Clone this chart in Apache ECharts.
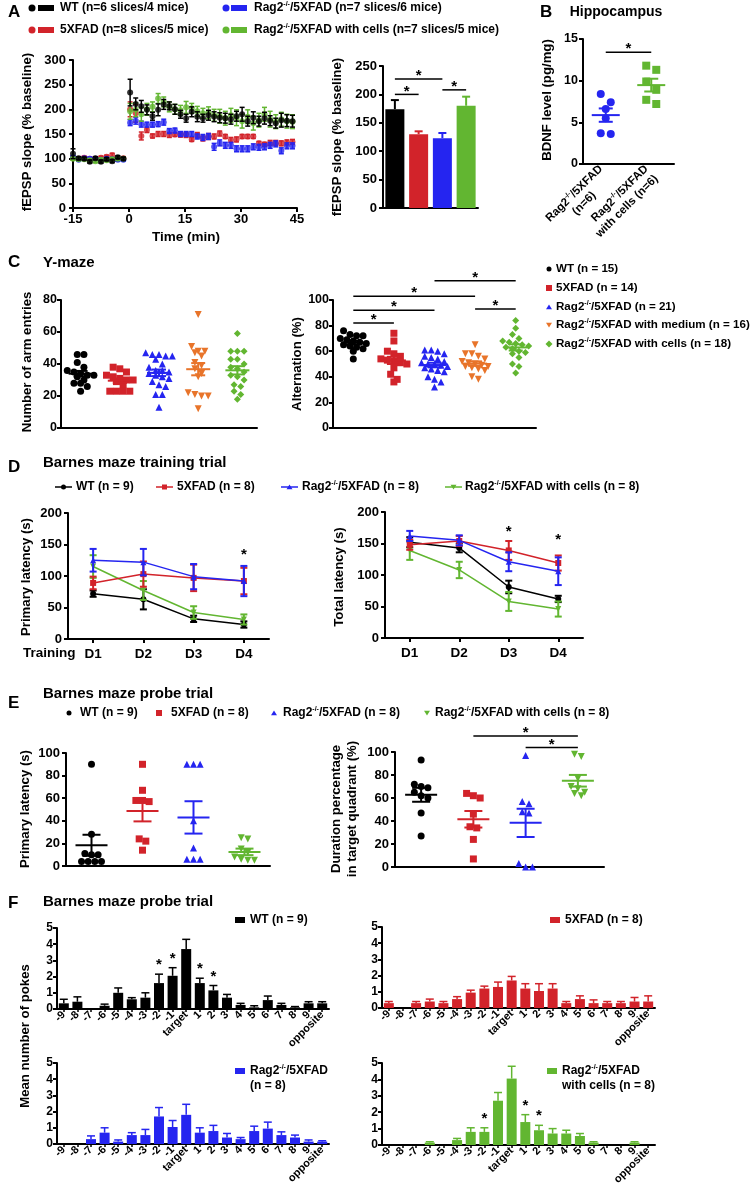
<!DOCTYPE html>
<html><head><meta charset="utf-8">
<script src="https://cdn.jsdelivr.net/npm/echarts@6/dist/echarts.min.js"></script>
<style>html,body{margin:0;padding:0;background:#fff}#c{width:756px;height:1193px}</style>
</head><body><div id="c"></div>
<script>
// ================= DATA =================
// Panel A (LTP time course)
const aTimeBase = [-15,-13.5,-12,-10.5,-9,-7.5,-6,-4.5,-3,-1.5];
const aTimePost = [0.3,1.8,3.3,4.8,6.3,7.8,9.3,10.8,12.3,13.8,15.3,16.8,18.3,19.8,21.3,22.8,24.3,25.8,27.3,28.8,30.3,31.8,33.3,34.8,36.3,37.8,39.3,40.8,42.3,43.8];
const aWtBase = [110,101,100,94,101,94,99,95,103,100];
const aWtPost = [234,211,206,199,186,199,210,207,200,190,182,195,185,182,188,185,183,182,180,186,190,176,183,176,182,177,172,178,177,176];
const aWtErrBase = [10,3,3,3,3,3,3,3,3,3];
const aWtErrPost = [27,12,12,10,8,12,10,8,10,8,8,10,10,8,10,10,10,10,10,10,14,10,12,10,12,10,10,14,12,12];
const aFadBase = [101,100,102,100,100,102,104,107,100,101];
const aFadPost = [200,192,146,158,146,150,150,148,149,148,148,139,148,141,145,145,151,145,138,139,145,145,145,131,129,132,132,131,133,134];
const aFadErrBase = [3,3,3,3,3,3,3,4,3,3];
const aFadErrPost = [15,18,8,5,4,5,5,5,4,4,5,4,5,5,6,5,5,4,5,5,4,4,4,4,4,5,5,5,5,5];
const aRagBase = [103,98,101,100,100,98,100,99,98,98];
const aRagPost = [173,177,170,169,169,170,174,156,157,150,150,150,145,143,145,124,132,127,127,120,120,120,124,123,124,127,130,116,126,126];
const aRagErrBase = [3,3,3,3,3,3,3,3,3,3];
const aRagErrPost = [6,7,6,5,5,5,6,5,5,5,5,5,5,6,6,7,6,6,6,6,6,6,6,6,6,6,6,6,6,6];
const aCellsBase = [100,99,99,97,95,98,97,99,100,100];
const aCellsPost = [196,199,190,200,205,222,215,205,200,198,204,202,196,192,193,188,186,182,188,183,176,185,172,178,190,180,175,180,176,175];
const aCellsErrBase = [3,3,3,3,3,3,3,3,3,3];
const aCellsErrPost = [16,14,14,12,10,10,10,10,10,10,12,10,10,10,12,12,14,14,14,16,14,14,14,14,14,16,14,14,14,14];
// Panel A bars (fEPSP at 45 min)
const aBarGroups = ['WT','5XFAD','Rag2-/-/5XFAD','Rag2-/-/5XFAD with cells'];
const aBarMean = [174,130,123,180];
const aBarSem = [16,5,9,16];
const aBarSig = [[0,1,200],[0,2,227],[2,3,208]];
// Panel B (BDNF)
const bGroups = ['Rag2-/-/5XFAD (n=6)','Rag2-/-/5XFAD with cells (n=6)'];
const bRag = [8.4,7.4,6.6,5.5,3.6,3.7];
const bCells = [11.3,11.8,9.9,8.9,7.2,7.7];
const bSig = [[0,1,13.4]];
// Panel C (Y-maze)
const cEntriesWt = [46,46,41,38,36,35,34,33,33,32,30,28,28,26,23];
const cEntriesFad = [38,37,35,33,32,31,30,30,29,27,23,23,23,23];
const cEntriesRag = [47,46,46,45,45,43,40,38,36,36,35,34,33,32,31,29,27,26,21,21,13];
const cEntriesMed = [71,51,48,48,47,45,41,39,37,34,32,22,21,20,20,12];
const cEntriesCells = [59,48,48,48,43,43,40,38,37,35,33,32,30,27,26,23,21,18];
const cAltWt = [76,73,72,72,70,69,68,67,66,65,64,63,62,60,54];
const cAltFad = [74,68,60,58,56,54,53,52,51,50,47,42,38,36];
const cAltRag = [61,61,60,58,56,55,54,52,51,50,50,49,48,47,46,45,44,40,38,36,32];
const cAltMed = [65,58,58,56,54,52,51,50,49,48,48,47,46,45,40,38];
const cAltCells = [84,78,73,70,68,67,66,65,64,63,62,60,59,58,55,50,48,43];
const cAltSig = [[0,1,82],[0,2,92],[0,3,103],[2,4,115],[3,4,93]];
// Panel D (Barnes training)
const dDays = ['D1','D2','D3','D4'];
const dPrimWt = [72,63,32,23],   dPrimWtErr = [5,16,5,5];
const dPrimFad = [89,103,97,92], dPrimFadErr = [10,20,21,21];
const dPrimRag = [125,122,99,92],dPrimRagErr = [18,21,20,24];
const dPrimCells = [115,77,42,31], dPrimCellsErr = [18,15,10,8];
const dTotWt = [152,143,81,62],  dTotWtErr = [8,7,10,5];
const dTotFad = [148,154,139,119], dTotFadErr = [8,8,15,12];
const dTotRag = [162,155,121,106], dTotRagErr = [8,8,15,22];
const dTotCells = [139,108,58,46], dTotCellsErr = [15,13,15,12];
const dPrimStars = [[3,133]];
const dTotStars = [[2,168],[3,155]];
// Panel E (Barnes probe)
const ePrimWt = [90,28,11,10,10,4,4,4,4];
const ePrimFad = [90,67,58,58,57,24,22,14];
const ePrimRag = [90,90,90,40,16,6,6,6];
const ePrimCells = [25,24,15,12,8,6,5,5];
const eDurWt = [93,72,70,69,65,62,60,47,27];
const eDurFad = [64,62,60,46,35,34,24,7];
const eDurRag = [97,57,55,48,47,3,0,0];
const eDurCells = [98,96,77,70,68,65,64,62];
const eDurSig = [[1,3,114],[2,3,104]];
// Panel F (pokes per hole)
const fHoles = ['-9','-8','-7','-6','-5','-4','-3','-2','-1','target','1','2','3','4','5','6','7','8','9','opposite'];
const fWt = [0.35,0.45,0,0.2,1.0,0.6,0.7,1.6,2.05,3.7,1.6,1.15,0.7,0.25,0.1,0.55,0.25,0.1,0.35,0.35];
const fWtSem = [0.25,0.3,0,0.1,0.3,0.1,0.3,0.55,0.5,0.6,0.3,0.3,0.2,0.1,0.1,0.25,0.1,0.05,0.1,0.1];
const fFad = [0.3,0,0.3,0.4,0.3,0.55,0.95,1.2,1.3,1.7,1.2,1.05,1.2,0.3,0.55,0.3,0.3,0.3,0.4,0.4];
const fFadSem = [0.1,0,0.1,0.15,0.1,0.15,0.15,0.15,0.3,0.25,0.3,0.45,0.3,0.1,0.2,0.2,0.1,0.1,0.25,0.35];
const fRag = [0,0,0.3,0.7,0.15,0.55,0.55,1.7,1.05,1.8,0.7,0.8,0.4,0.3,0.8,0.95,0.55,0.4,0.15,0.15];
const fRagSem = [0,0,0.2,0.3,0.1,0.15,0.35,0.55,0.4,0.65,0.3,0.35,0.25,0.1,0.3,0.4,0.2,0.15,0.1,0.05];
const fCells = [0,0,0,0.15,0,0.3,0.8,0.8,2.7,4.05,1.4,0.9,0.7,0.7,0.55,0.15,0,0,0.15,0];
const fCellsSem = [0,0,0,0.05,0,0.1,0.25,0.25,0.5,0.75,0.45,0.3,0.3,0.2,0.15,0.05,0,0,0.05,0];
const fWtStars = [7,8,10,11];
const fCellsStars = [7,10,11];

// ================= STYLE / HELPERS =================
const FONT = '"Liberation Sans", Arial, Helvetica, sans-serif';
const COL = {wt:'#000000', fad:'#D2232A', rag:'#2525F0', med:'#E8742A', cells:'#62B631'};
const opt = {animation:false, textStyle:{fontFamily:FONT}, grid:[], xAxis:[], yAxis:[], series:[], graphic:[]};
const lineAx = {show:true, onZero:false, lineStyle:{color:'#000', width:2}};

function grid(l,t,w,h){opt.grid.push({left:l,top:t,width:w,height:h,containLabel:false,outerBoundsMode:'none'});return opt.grid.length-1;}
function yAx(gi,min,max,interval,fs,margin){
  opt.yAxis.push({type:'value',gridIndex:gi,min,max,interval,axisLine:lineAx,
    axisTick:{show:true,length:4,lineStyle:{color:'#000',width:2}},
    axisLabel:{color:'#000',fontFamily:FONT,fontWeight:'bold',fontSize:fs||13,margin:margin==null?5:margin},
    splitLine:{show:false}});
  return opt.yAxis.length-1;
}
function xVal(gi,min,max,o){
  o=o||{};
  opt.xAxis.push({type:'value',gridIndex:gi,min,max,interval:o.interval,show:o.show!==false,axisLine:lineAx,
    axisTick:{show:!!o.ticks,length:4,lineStyle:{color:'#000',width:2}},
    axisLabel:{show:!!o.labels,color:'#000',fontFamily:FONT,fontWeight:'bold',fontSize:13,margin:5},
    splitLine:{show:false}});
  return opt.xAxis.length-1;
}
function xCat(gi,cats,o){
  o=o||{};
  opt.xAxis.push({type:'category',gridIndex:gi,data:cats,boundaryGap:true,axisLine:lineAx,
    axisTick:{show:!!o.ticks,alignWithLabel:true,length:o.tickLen||4,lineStyle:{color:'#000',width:o.tickW||2}},
    axisLabel:Object.assign({show:!!o.labels,interval:0,color:'#000',fontFamily:FONT,fontWeight:'bold',fontSize:o.fs||12,margin:o.margin||6,rotate:o.rotate||0},o.label||{}),
    splitLine:{show:false}});
  return opt.xAxis.length-1;
}
function errSeries(xi,yi,data,color,capHalf,lw,upOnly,z){
  opt.series.push({type:'custom',xAxisIndex:xi,yAxisIndex:yi,data,z:z||2,clip:false,silent:true,
    renderItem:(p,api)=>{
      const x=api.value(0),y=api.value(1),e=api.value(2);
      if(!(e>0)) return null;
      const c=api.coord([x,y]),t=api.coord([x,y+e]),b=upOnly?c:api.coord([x,y-e]);
      const st={stroke:color,lineWidth:lw};
      const ch=[{type:'line',shape:{x1:c[0],y1:t[1],x2:c[0],y2:b[1]},style:st},
                {type:'line',shape:{x1:c[0]-capHalf,y1:t[1],x2:c[0]+capHalf,y2:t[1]},style:st}];
      if(!upOnly) ch.push({type:'line',shape:{x1:c[0]-capHalf,y1:b[1],x2:c[0]+capHalf,y2:b[1]},style:st});
      return {type:'group',children:ch};
    }});
}
function meanSem(vals){const n=vals.length;const m=vals.reduce((a,b)=>a+b,0)/n;
  const sd=Math.sqrt(vals.reduce((a,b)=>a+(b-m)*(b-m),0)/(n-1));return [m,sd/Math.sqrt(n)];}
function meanSeries(xi,yi,groups,colors,meanHalf,capHalf){
  groups.forEach((g,i)=>{
    const [m,s]=meanSem(g);
    opt.series.push({type:'custom',xAxisIndex:xi,yAxisIndex:yi,data:[[i,m,s]],z:4,clip:false,silent:true,
      renderItem:(p,api)=>{
        const x=api.value(0),mm=api.value(1),ss=api.value(2);
        const c=api.coord([x,mm]),t=api.coord([x,mm+ss]),b=api.coord([x,mm-ss]);
        const st={stroke:colors[i],lineWidth:2};
        return {type:'group',children:[
          {type:'line',shape:{x1:c[0]-meanHalf,y1:c[1],x2:c[0]+meanHalf,y2:c[1]},style:st},
          {type:'line',shape:{x1:c[0],y1:t[1],x2:c[0],y2:b[1]},style:st},
          {type:'line',shape:{x1:c[0]-capHalf,y1:t[1],x2:c[0]+capHalf,y2:t[1]},style:st},
          {type:'line',shape:{x1:c[0]-capHalf,y1:b[1],x2:c[0]+capHalf,y2:b[1]},style:st}]};
      }});
  });
}
function swarm(vals,gi,bin,step,maxRow){
  const s=vals.slice().sort((a,b)=>b-a);const out=[];let cl=[];
  const flush=()=>{const k=cl.length;cl.forEach((v,j)=>out.push([gi+(j-(k-1)/2)*step,v]));cl=[];};
  s.forEach(v=>{if(cl.length&&(cl[0]-v>bin||cl.length>=maxRow))flush();cl.push(v);});
  flush();return out;
}
function dotSeries(xi,yi,groups,colors,symbols,size,bin,step,maxRow){
  groups.forEach((g,i)=>{
    const sym=symbols[i];
    opt.series.push({type:'scatter',xAxisIndex:xi,yAxisIndex:yi,data:swarm(g,i,bin,step,maxRow),
      symbol:sym==='down'?'triangle':sym,symbolRotate:sym==='down'?180:0,symbolSize:size,
      itemStyle:{color:colors[i],opacity:1},z:3,silent:true});
  });
}
const starStyle = {text:'*',align:'center',verticalAlign:'middle',fontSize:15,fontWeight:'bold',fontFamily:FONT,fill:'#000'};
function sigSeries(xi,yi,data){
  opt.series.push({type:'custom',xAxisIndex:xi,yAxisIndex:yi,data,z:5,clip:false,silent:true,
    renderItem:(p,api)=>{
      const a=api.coord([api.value(0),api.value(2)]),b=api.coord([api.value(1),api.value(2)]);
      return {type:'group',children:[
        {type:'line',shape:{x1:a[0],y1:a[1],x2:b[0],y2:b[1]},style:{stroke:'#000',lineWidth:1.5}},
        {type:'text',x:(a[0]+b[0])/2,y:a[1]-3,style:starStyle}]};
    }});
}
function starSeries(xi,yi,data,pxOff){
  opt.series.push({type:'custom',xAxisIndex:xi,yAxisIndex:yi,data,z:5,clip:false,silent:true,
    renderItem:(p,api)=>{const c=api.coord([api.value(0),api.value(1)]);
      return {type:'text',x:c[0],y:c[1]-(pxOff||0),style:starStyle};}});
}
// graphics
function txt(x,y,text,o){o=o||{};const fs=o.fs||12;
  opt.graphic.push({type:'text',x,y,rotation:o.rot||0,z:10,silent:true,style:{text,fill:o.color||'#000',fontFamily:FONT,fontWeight:'bold',
    fontSize:fs,lineHeight:o.lh||fs+3,align:o.align||'left',verticalAlign:o.va||'middle',
    rich:{s:{fontSize:Math.round(fs*0.62),fontWeight:'bold',fontFamily:FONT,fill:'#000',verticalAlign:'top',lineHeight:7}}}});}
function rag(rest){return 'Rag2{s|-/-}'+rest;}
function gCircle(x,y,r,c){opt.graphic.push({type:'circle',shape:{cx:x,cy:y,r},style:{fill:c},silent:true});}
function gRect(x,y,w,h,c){opt.graphic.push({type:'rect',shape:{x,y,width:w,height:h},style:{fill:c},silent:true});}
function gTri(x,y,s,c,down){const p=down?[[x-s,y-s*0.75],[x+s,y-s*0.75],[x,y+s*0.85]]:[[x-s,y+s*0.75],[x+s,y+s*0.75],[x,y-s*0.85]];
  opt.graphic.push({type:'polygon',shape:{points:p},style:{fill:c},silent:true});}
function gDiamond(x,y,s,c){opt.graphic.push({type:'polygon',shape:{points:[[x,y-s],[x+s,y],[x,y+s],[x-s,y]]},style:{fill:c},silent:true});}
function gLine(x1,y1,x2,y2,c,w){opt.graphic.push({type:'line',shape:{x1,y1,x2,y2},style:{stroke:c,lineWidth:w||1.5},silent:true});}
const YL = 13.2; // y-axis title size

// ================= PANEL A =================
txt(8,12,'A',{fs:17});
gCircle(32,8,3.5,COL.wt); gRect(38,5,16,6,COL.wt); txt(60,8,'WT (n=6 slices/4 mice)');
gCircle(226,8,3.5,COL.rag); gRect(231,5,16,6,COL.rag); txt(254,8,rag('/5XFAD (n=7 slices/6 mice)'));
gCircle(32,30,3.5,COL.fad); gRect(38,27,16,6,COL.fad); txt(60,30,'5XFAD (n=8 slices/5 mice)');
gCircle(226,30,3.5,COL.cells); gRect(231,27,16,6,COL.cells); txt(254,30,rag('/5XFAD with cells (n=7 slices/5 mice)'));

const gA=grid(73,60,224,148);
const xA=xVal(gA,-15,45,{interval:15,ticks:true,labels:true});
const yA=yAx(gA,0,300,50,13,7);
const aTimes=aTimeBase.concat(aTimePost);
[[aFadBase.concat(aFadPost),aFadErrBase.concat(aFadErrPost),COL.fad],
 [aRagBase.concat(aRagPost),aRagErrBase.concat(aRagErrPost),COL.rag],
 [aCellsBase.concat(aCellsPost),aCellsErrBase.concat(aCellsErrPost),COL.cells],
 [aWtBase.concat(aWtPost),aWtErrBase.concat(aWtErrPost),COL.wt]].forEach(([v,e,c],k)=>{
  errSeries(xA,yA,aTimes.map((t,i)=>[t,v[i],e[i]]),c,2.5,1.5,false,2+k);
  opt.series.push({type:'scatter',xAxisIndex:xA,yAxisIndex:yA,data:aTimes.map((t,i)=>[t,v[i]]),symbol:'circle',symbolSize:6,itemStyle:{color:c},z:2+k,silent:true});
});
txt(27,132,'fEPSP slope (% baseline)',{rot:Math.PI/2,align:'center',fs:YL});
txt(186,237,'Time (min)',{align:'center',fs:13.5});

const gA2=grid(383,66,95,142);
const xA2=xCat(gA2,aBarGroups,{});
const yA2=yAx(gA2,0,250,50,13,6);
const barCols=[COL.wt,COL.fad,COL.rag,COL.cells];
opt.series.push({type:'bar',xAxisIndex:xA2,yAxisIndex:yA2,barWidth:19,silent:true,
  data:aBarMean.map((v,i)=>({value:v,itemStyle:{color:barCols[i]}}))});
aBarMean.forEach((v,i)=>errSeries(xA2,yA2,[[i,v,aBarSem[i]]],barCols[i],4,2,true,3));
sigSeries(xA2,yA2,aBarSig);
txt(337,137,'fEPSP slope (% baseline)',{rot:Math.PI/2,align:'center',fs:YL});

// ================= PANEL B =================
txt(540,12,'B',{fs:17});
txt(616,12,'Hippocampus',{align:'center',fs:14});
const gB=grid(583,39,91,125);
const bRichLabels=['Rag2{s|-/-}/5XFAD\n{c|(n=6)}','Rag2{s|-/-}/5XFAD\n{c|with cells (n=6)}'];
const xB=xCat(gB,bGroups,{labels:true,rotate:45,fs:11.5,margin:8,label:{lineHeight:14,
  formatter:(v,i)=>bRichLabels[i],
  rich:{s:{fontSize:7,fontWeight:'bold',fontFamily:FONT,color:'#000',verticalAlign:'top',lineHeight:7},
        c:{align:'center',fontSize:11.5,fontWeight:'bold',fontFamily:FONT,color:'#000',lineHeight:14}}}});
const xB2=xVal(gB,-0.5,1.5,{show:false});
const yB=yAx(gB,0,15,5,12.5,5);
dotSeries(xB2,yB,[bRag,bCells],[COL.rag,COL.cells],['circle','rect'],8,1.0,0.22,3);
meanSeries(xB2,yB,[bRag,bCells],[COL.rag,COL.cells],14,7);
sigSeries(xB2,yB,bSig);
txt(547,100,'BDNF level (pg/mg)',{rot:Math.PI/2,align:'center',fs:YL});

// ================= PANEL C =================
txt(8,262,'C',{fs:17});
txt(43,263,'Y-maze',{fs:15});
const cCols=[COL.wt,COL.fad,COL.rag,COL.med,COL.cells];
const cSyms=['circle','rect','triangle','down','diamond'];
const gC1=grid(61,300,196,128);
const xC1=xVal(gC1,-0.5,4.5,{});
const yC1=yAx(gC1,0,80,20,12.5,4);
const cEntries=[cEntriesWt,cEntriesFad,cEntriesRag,cEntriesMed,cEntriesCells];
dotSeries(xC1,yC1,cEntries,cCols,cSyms,7,3.5,0.17,5);
meanSeries(xC1,yC1,cEntries,cCols,12,7);
txt(27,362,'Number of arm entries',{rot:Math.PI/2,align:'center',fs:YL});

const gC2=grid(333,300,203,128);
const xC2=xVal(gC2,-0.5,4.5,{});
const yC2=yAx(gC2,0,100,20,12.5,4);
const cAlt=[cAltWt,cAltFad,cAltRag,cAltMed,cAltCells];
dotSeries(xC2,yC2,cAlt,cCols,cSyms,7,4.5,0.16,5);
meanSeries(xC2,yC2,cAlt,cCols,12,7);
sigSeries(xC2,yC2,cAltSig);
txt(297,364,'Alternation (%)',{rot:Math.PI/2,align:'center',fs:YL});
// legend C
const cLeg=['WT (n = 15)','5XFAD (n = 14)',rag('/5XFAD (n = 21)'),rag('/5XFAD with medium (n = 16)'),rag('/5XFAD with cells (n = 18)')];
const cLegY=[269,288,307,325,344];
gCircle(549,cLegY[0],2.5,COL.wt); gRect(546,cLegY[1]-3,6,6,COL.fad); gTri(549,cLegY[2],3,COL.rag,false);
gTri(549,cLegY[3],3,COL.med,true); gDiamond(549,cLegY[4],3.5,COL.cells);
cLeg.forEach((t,i)=>txt(556,cLegY[i],t,{fs:11.6}));

// ================= PANEL D =================
txt(8,467,'D',{fs:17});
txt(43,463,'Barnes maze training trial',{fs:15});
const dCols=[COL.wt,COL.cells,COL.fad,COL.rag];
const dSyms=['circle','down','rect','triangle'];
function dLegend(x,y,c,sym){gLine(x,y,x+17,y,c,1.5);
  if(sym==='circle')gCircle(x+8.5,y,2.5,c);else if(sym==='rect')gRect(x+6,y-2.5,5,5,c);else gTri(x+8.5,y,3,c,sym==='down');}
dLegend(55,487,COL.wt,'circle'); txt(76,487,'WT (n = 9)');
dLegend(156,487,COL.fad,'rect'); txt(177,487,'5XFAD (n = 8)');
dLegend(281,487,COL.rag,'triangle'); txt(302,487,rag('/5XFAD (n = 8)'));
dLegend(445,487,COL.cells,'down'); txt(465,487,rag('/5XFAD with cells (n = 8)'));
function dPanel(l,t,w,h,sets,stars){
  const g=grid(l,t,w,h);
  const xi=xCat(g,dDays,{labels:true,ticks:true,fs:13.5,margin:8});
  const yi=yAx(g,0,200,50,13,6);
  sets.forEach(([v,e],k)=>{
    errSeries(xi,yi,v.map((y,i)=>[i,y,e[i]]),dCols[k],3.5,2,false,2+k);
    const sym=dSyms[k];
    opt.series.push({type:'line',xAxisIndex:xi,yAxisIndex:yi,data:v,symbol:sym==='down'?'triangle':sym,symbolRotate:sym==='down'?180:0,
      symbolSize:6,lineStyle:{color:dCols[k],width:1.5},itemStyle:{color:dCols[k]},z:2+k,silent:true});
  });
  starSeries(xi,yi,stars,0);
}
dPanel(68,513,201,126,[[dPrimWt,dPrimWtErr],[dPrimCells,dPrimCellsErr],[dPrimFad,dPrimFadErr],[dPrimRag,dPrimRagErr]],dPrimStars);
dPanel(385,512,198,126,[[dTotWt,dTotWtErr],[dTotCells,dTotCellsErr],[dTotFad,dTotFadErr],[dTotRag,dTotRagErr]],dTotStars);
txt(23,653,'Training',{fs:13.5});
txt(26,577,'Primary latency (s)',{rot:Math.PI/2,align:'center',fs:YL});
txt(339,577,'Total latency (s)',{rot:Math.PI/2,align:'center',fs:YL});

// ================= PANEL E =================
txt(8,703,'E',{fs:17});
txt(43,694,'Barnes maze probe trial',{fs:15});
const eCols=[COL.wt,COL.fad,COL.rag,COL.cells];
const eSyms=['circle','rect','triangle','down'];
gCircle(69,713,2.5,COL.wt); txt(80,713,'WT (n = 9)');
gRect(156,710,6,6,COL.fad); txt(171,713,'5XFAD (n = 8)');
gTri(274,713,3,COL.rag,false); txt(283,713,rag('/5XFAD (n = 8)'));
gTri(427,713,3,COL.cells,true); txt(435,713,rag('/5XFAD with cells (n = 8)'));
const gE1=grid(66,753,204,113);
const xE1=xVal(gE1,-0.5,3.5,{});
const yE1=yAx(gE1,0,100,20,13,6);
const ePrim=[ePrimWt,ePrimFad,ePrimRag,ePrimCells];
dotSeries(xE1,yE1,ePrim,eCols,eSyms,7,5,0.13,5);
meanSeries(xE1,yE1,ePrim,eCols,16,9);
txt(25,809,'Primary latency (s)',{rot:Math.PI/2,align:'center',fs:YL});
const gE2=grid(395,752,209,115);
const xE2=xVal(gE2,-0.5,3.5,{});
const yE2=yAx(gE2,0,100,20,13,6);
const eDur=[eDurWt,eDurFad,eDurRag,eDurCells];
dotSeries(xE2,yE2,eDur,eCols,eSyms,7,5,0.13,5);
meanSeries(xE2,yE2,eDur,eCols,16,9);
sigSeries(xE2,yE2,eDurSig);
txt(344,809,'Duration percentage\nin target quadrant (%)',{rot:Math.PI/2,align:'center',fs:YL,lh:16});

// ================= PANEL F =================
txt(8,903,'F',{fs:17});
txt(43,902,'Barnes maze probe trial',{fs:15});
function fPanel(l,t,w,h,vals,sem,color,stars){
  const g=grid(l,t,w,h);
  const xi=xCat(g,fHoles,{labels:true,ticks:true,rotate:45,fs:11,margin:4,tickLen:3,tickW:1.5});
  const yi=yAx(g,0,5,1,12,4);
  opt.series.push({type:'bar',xAxisIndex:xi,yAxisIndex:yi,data:vals,barWidth:10,itemStyle:{color},silent:true});
  errSeries(xi,yi,vals.map((v,i)=>[i,v,sem[i]]),color,4,1.5,true,3);
  starSeries(xi,yi,stars.map(i=>[i,vals[i]+sem[i]]),9);
}
fPanel(57,928,272,81,fWt,fWtSem,COL.wt,fWtStars);
fPanel(382,927,273,81,fFad,fFadSem,COL.fad,[]);
fPanel(57,1063,272,81,fRag,fRagSem,COL.rag,[]);
fPanel(382,1063,273,82,fCells,fCellsSem,COL.cells,fCellsStars);
gRect(235,917,10,6,COL.wt); txt(250,920,'WT (n = 9)');
gRect(550,917,10,6,COL.fad); txt(565,920,'5XFAD (n = 8)');
gRect(235,1068,10,6,COL.rag); txt(250,1071,rag('/5XFAD')); txt(250,1086,'(n = 8)');
gRect(547,1068,10,6,COL.cells); txt(562,1071,rag('/5XFAD')); txt(562,1086,'with cells (n = 8)');
txt(25,1036,'Mean number of pokes',{rot:Math.PI/2,align:'center',fs:YL});

const chart=echarts.init(document.getElementById('c'),null,{renderer:'canvas'});
chart.setOption(opt);
</script></body></html>
